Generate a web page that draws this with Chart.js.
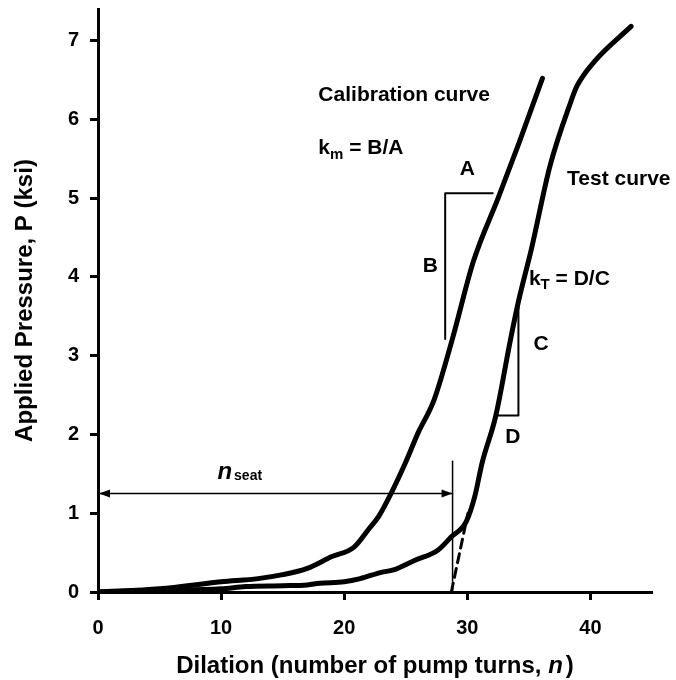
<!DOCTYPE html>
<html>
<head>
<meta charset="utf-8">
<script src="https://cdn.jsdelivr.net/npm/chart.js@4/dist/chart.umd.min.js"></script>
<style>
html,body{margin:0;padding:0;background:#fff}
#wrap{width:676px;height:680px}
</style>
</head>
<body>
<div id="wrap"><canvas id="chartDilation"></canvas></div>
<script>
// curves (n = pump turns, P = ksi)
const calibN = [0,5,10,13,15,17,19,20.8,22,22.8,23.8,25,26,27.3,28.8,30.5,32.5,34.2,36.1]
const calibP = [0,0.04,0.13,0.17,0.22,0.3,0.45,0.57,0.8,0.96,1.25,1.65,2.02,2.44,3.22,4.2,5.0,5.7,6.52]
const testN = [0,5,10,12,15,17,18,20,21.3,23,24,25.7,27.6,28.7,29.9,30.6,31.2,32.3,33.5,34.2,35.2,36.7,38.4,38.9,40.3,43.3]
const testP = [0,0.02,0.04,0.07,0.08,0.09,0.11,0.13,0.17,0.25,0.28,0.4,0.53,0.7,0.89,1.21,1.64,2.23,3.2,3.72,4.35,5.4,6.22,6.42,6.73,7.18]

// construction lines
const dashN = [28.7,30.05], dashP = [0,1.0]
const seatN = [28.8,28.8], seatP = [0,1.66]
const arrowN = [0,28.8], arrowP = [1.25,1.25]
const abN = [32.06,28.2,28.2], abP = [5.06,5.06,3.21]
const cdN = [34.15,34.15,32.4], cdP = [3.65,2.24,2.24]

const xTicks = [0,10,20,30,40]
const yTicks = [0,1,2,3,4,5,6,7]

// text labels: [text, subscript, after, n, P, align]
const labels = [
  ['Calibration curve','','',17.9,6.31,'left'],
  ['k','m',' = B/A',17.9,5.63,'left'],
  ['A','','',30.0,5.37,'center'],
  ['Test curve','','',38.1,5.24,'left'],
  ['B','','',27.0,4.14,'center'],
  ['k','T',' = D/C',35.0,3.97,'left'],
  ['C','','',36.0,3.14,'center'],
  ['D','','',33.7,1.96,'center']
]

const FONT = '"Liberation Sans", Arial, sans-serif'

function pts(xs,ys){ return xs.map((x,i) => ({x:x,y:ys[i]})) }

function lineSet(xs,ys,w,dash,smooth){
  return {data:pts(xs,ys),showLine:true,borderColor:'#000',borderWidth:w,
    borderDash:dash||[],pointRadius:0,fill:false,
    cubicInterpolationMode:smooth ? 'monotone' : 'default',tension:smooth ? 0.4 : 0,
    borderCapStyle:'round',borderJoinStyle:'round'}
}

const annotPlugin = {
  id:'annot',
  afterDatasetsDraw(chart){
    const ctx = chart.ctx, xs = chart.scales.x, ys = chart.scales.y
    ctx.save()
    ctx.fillStyle = '#000'
    ctx.textBaseline = 'middle'
    labels.forEach(l => {
      let px = xs.getPixelForValue(l[3]), py = ys.getPixelForValue(l[4])
      ctx.font = 'bold 21px ' + FONT
      let w1 = ctx.measureText(l[0]).width
      ctx.font = 'bold 15px ' + FONT
      let w2 = ctx.measureText(l[1]).width
      ctx.font = 'bold 21px ' + FONT
      let w3 = ctx.measureText(l[2]).width
      let total = w1+w2+w3
      let start = l[5]=='center' ? px-total/2 : px
      ctx.textAlign = 'left'
      ctx.fillText(l[0],start,py)
      ctx.font = 'bold 15px ' + FONT
      ctx.fillText(l[1],start+w1,py+6)
      ctx.font = 'bold 21px ' + FONT
      ctx.fillText(l[2],start+w1+w2,py)
    })
    // n_seat
    let nx = xs.getPixelForValue(9.7), ny = ys.getPixelForValue(1.52)
    ctx.font = 'italic bold 24px ' + FONT
    ctx.fillText('n',nx,ny)
    let wn = ctx.measureText('n').width
    ctx.font = 'bold 14px ' + FONT
    ctx.fillText('seat',nx+wn+2,ny+4)
    // arrow heads on the n_seat dimension line
    const head = (x,y,dir) => {
      ctx.beginPath()
      ctx.moveTo(x,y)
      ctx.lineTo(x-dir*11,y-4)
      ctx.lineTo(x-dir*11,y+4)
      ctx.closePath()
      ctx.fill()
    }
    let ay = ys.getPixelForValue(arrowP[0])
    head(xs.getPixelForValue(arrowN[0])+1,ay,-1)
    head(xs.getPixelForValue(arrowN[1]),ay,1)
    // x axis title with italic n
    let cx = (chart.chartArea.left+chart.chartArea.right)/2
    let ty = 666
    ctx.font = 'bold 24px ' + FONT
    let part1 = 'Dilation (number of pump turns, '
    let wA = ctx.measureText(part1).width
    ctx.font = 'italic bold 24px ' + FONT
    let wB = ctx.measureText('n').width
    ctx.font = 'bold 24px ' + FONT
    let wC = ctx.measureText(')').width
    let sx = cx-(wA+wB+wC+3)/2
    ctx.fillText(part1,sx,ty)
    ctx.font = 'italic bold 24px ' + FONT
    ctx.fillText('n',sx+wA,ty)
    ctx.font = 'bold 24px ' + FONT
    ctx.fillText(')',sx+wA+wB+3,ty)
    ctx.restore()
  }
}

let chartDilation = new Chart(
  document.getElementById('chartDilation'),
  {
    type:'scatter',
    data:{
      datasets:[
        lineSet(calibN,calibP,5,null,true),
        lineSet(testN,testP,5,null,true),
        lineSet(dashN,dashP,3,[9,6]),
        lineSet(seatN,seatP,1.5),
        lineSet(arrowN,arrowP,1.5),
        lineSet(abN,abP,2),
        lineSet(cdN,cdP,2)
      ]
    },
    options:{
      responsive:true,
      maintainAspectRatio:false,
      animation:false,
      layout:{padding:{left:0,right:24,top:9,bottom:0}},
      plugins:{legend:{display:false},tooltip:{enabled:false}},
      scales:{
        x:{
          type:'linear',min:0,max:45,
          afterFit:(s) => {s.height = 88; s.paddingLeft = 0; s.paddingRight = 0},
          afterBuildTicks:(s) => {s.ticks = xTicks.map(v => ({value:v}))},
          grid:{display:true,drawOnChartArea:false,drawTicks:true,tickLength:8,tickWidth:3,color:'#000'},
          border:{display:true,color:'#000',width:3},
          ticks:{color:'#000',font:{family:FONT,size:20,weight:'bold'},padding:16,maxRotation:0},
          title:{display:false}
        },
        y:{
          type:'linear',min:0,max:7.4,
          afterFit:(s) => {s.width = 98; s.paddingTop = 0; s.paddingBottom = 0},
          afterBuildTicks:(s) => {s.ticks = yTicks.map(v => ({value:v}))},
          grid:{display:true,drawOnChartArea:false,drawTicks:true,tickLength:8,tickWidth:3,color:'#000'},
          border:{display:true,color:'#000',width:3},
          ticks:{color:'#000',font:{family:FONT,size:20,weight:'bold'},padding:11},
          title:{display:true,text:'Applied Pressure, P (ksi)',color:'#000',
            font:{family:FONT,size:24,weight:'bold'},padding:{top:11,bottom:0}}
        }
      }
    },
    plugins:[annotPlugin]
  }
)
</script>
</body>
</html>
